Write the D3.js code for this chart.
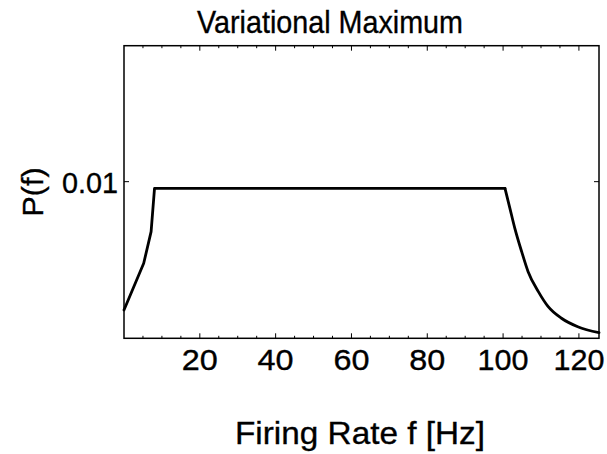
<!DOCTYPE html>
<html>
<head>
<meta charset="utf-8">
<script src="https://cdn.jsdelivr.net/npm/d3@7"></script>
<style>
  body { margin: 0; background: #fff; }
  text { font-family: "Liberation Sans", Arial, sans-serif; fill: #000; stroke: #000; stroke-width: 0.35px; }
</style>
</head>
<body>
<svg width="607" height="454"></svg>
<script>
// data
const freq = [0, 5.2, 7.15, 8.05, 100.5, 101.8, 103.1, 104.9, 106.6, 109.3, 111.9, 115.4, 119.7, 125.3];
const prob = [0.00181, 0.00479, 0.00681, 0.00957, 0.00957, 0.0083, 0.00702, 0.00553, 0.00425, 0.00298, 0.00202, 0.00128, 0.00074, 0.00036];
const xTicks = [20, 40, 60, 80, 100, 120];
const yTicks = [0.01];

const svg = d3.select("svg");
let plotLeft = 124, plotRight = 599, plotTop = 45.7, plotBottom = 338.3;

const x = d3.scaleLinear().domain([0, 125.3]).range([plotLeft, plotRight]);
const y = d3.scaleLinear().domain([0, 0.01868]).range([plotBottom, plotTop]);

// frame
svg.append("rect")
  .attr("x", plotLeft).attr("y", plotTop)
  .attr("width", plotRight - plotLeft).attr("height", plotBottom - plotTop)
  .attr("fill", "none").attr("stroke", "#000").attr("stroke-width", 1.5);

// ticks pointing inwards, on all four sides
const minor = d3.range(5, 125, 5).filter(d => d % 20 != 0);
const g = svg.append("g").attr("stroke", "#000").attr("stroke-width", 1);
xTicks.forEach(d => {
  g.append("line").attr("x1", x(d)).attr("x2", x(d)).attr("y1", plotBottom).attr("y2", plotBottom - 5);
  g.append("line").attr("x1", x(d)).attr("x2", x(d)).attr("y1", plotTop).attr("y2", plotTop + 5);
});
minor.forEach(d => {
  g.append("line").attr("x1", x(d)).attr("x2", x(d)).attr("y1", plotBottom).attr("y2", plotBottom - 2.5);
  g.append("line").attr("x1", x(d)).attr("x2", x(d)).attr("y1", plotTop).attr("y2", plotTop + 2.5);
});
yTicks.forEach(d => {
  g.append("line").attr("x1", plotLeft).attr("x2", plotLeft + 5).attr("y1", y(d)).attr("y2", y(d));
  g.append("line").attr("x1", plotRight).attr("x2", plotRight - 5).attr("y1", y(d)).attr("y2", y(d));
});

// tick labels
svg.selectAll(".xl").data(xTicks).enter().append("text")
  .attr("x", d => x(d))
  .attr("y", 370)
  .attr("text-anchor", "middle")
  .attr("font-size", "30px")
  .attr("textLength", d => d >= 100 ? 51 : 36)
  .attr("lengthAdjust", "spacingAndGlyphs")
  .text(d => d);

svg.selectAll(".yl").data(yTicks).enter().append("text")
  .attr("x", 118)
  .attr("y", d => y(d) + 11)
  .attr("text-anchor", "end")
  .attr("font-size", "29px")
  .attr("textLength", 56)
  .attr("lengthAdjust", "spacingAndGlyphs")
  .text("0.01");

// curve: straight rise + plateau, then smooth decay after 100 Hz
const pts = freq.map((f, i) => [x(f), y(prob[i])]);
const split = 4;
svg.append("path")
  .attr("d", d3.line()(pts.slice(0, split + 1)))
  .attr("fill", "none")
  .attr("stroke", "#000")
  .attr("stroke-width", 2.8)
  .attr("stroke-linejoin", "round")
  .attr("stroke-linecap", "round");
svg.append("path")
  .attr("d", d3.line().curve(d3.curveMonotoneX)(pts.slice(split)))
  .attr("fill", "none")
  .attr("stroke", "#000")
  .attr("stroke-width", 2.8)
  .attr("stroke-linecap", "round");

// title and axis labels
svg.append("text")
  .attr("x", 330).attr("y", 33)
  .attr("text-anchor", "middle")
  .attr("font-size", "32px")
  .attr("textLength", 266)
  .attr("lengthAdjust", "spacingAndGlyphs")
  .text("Variational Maximum");

svg.append("text")
  .attr("x", 360).attr("y", 444)
  .attr("text-anchor", "middle")
  .attr("font-size", "32px")
  .attr("textLength", 250)
  .attr("lengthAdjust", "spacingAndGlyphs")
  .text("Firing Rate f [Hz]");

svg.append("text")
  .attr("transform", "translate(43, 192) rotate(-90)")
  .attr("text-anchor", "middle")
  .attr("font-size", "30px")
  .attr("textLength", 49)
  .attr("lengthAdjust", "spacingAndGlyphs")
  .text("P(f)");
</script>
</body>
</html>
